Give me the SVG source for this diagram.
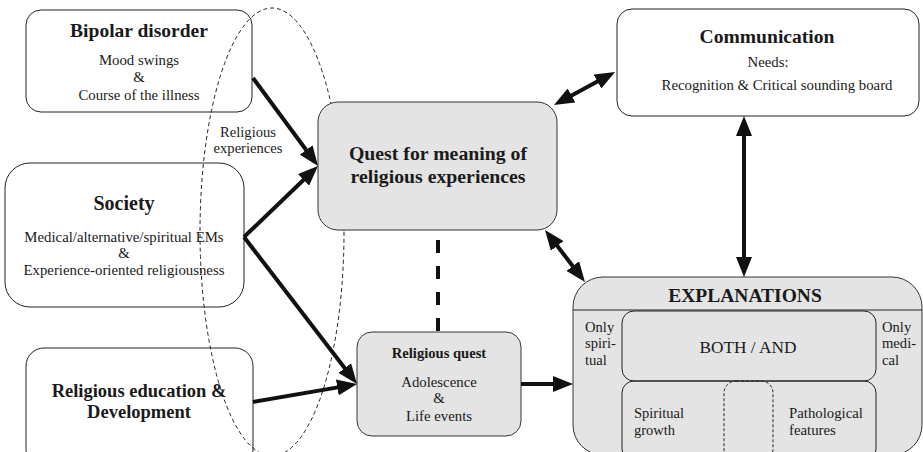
<svg xmlns="http://www.w3.org/2000/svg" width="923" height="452" viewBox="0 0 923 452">
<style>
text{fill:#1a1a1a;font-family:"Liberation Serif","Times New Roman",serif;}
.b{font-weight:bold;}
.box{fill:#fff;stroke:#222;stroke-width:1;}
.gbox{fill:#e4e4e4;stroke:#333;stroke-width:1;}
.ibox{fill:none;stroke:#222;stroke-width:1;}
.arr{stroke:#111;stroke-width:4;fill:none;}
</style>
<defs>
<marker id="ah" markerUnits="userSpaceOnUse" markerWidth="20" markerHeight="16" refX="2" refY="8" orient="auto-start-reverse">
<path d="M0,0 L20,8 L0,16 z" fill="#111"/>
</marker>
</defs>
<rect width="923" height="452" fill="#fff"/>

<g id="bipolar">
<rect class="box" x="26" y="10" width="226" height="102" rx="15"/>
<text class="b" x="139" y="37" font-size="19.5" text-anchor="middle">Bipolar disorder</text>
<text x="139" y="65" font-size="14.8" text-anchor="middle">Mood swings</text>
<text x="139" y="82" font-size="14.8" text-anchor="middle">&amp;</text>
<text x="139" y="100" font-size="14.8" text-anchor="middle">Course of the illness</text>
</g>

<g id="society">
<rect class="box" x="5" y="163" width="239" height="144" rx="25"/>
<text class="b" x="124" y="210" font-size="20" text-anchor="middle">Society</text>
<text x="124" y="242" font-size="14.8" text-anchor="middle">Medical/alternative/spiritual EMs</text>
<text x="124" y="258" font-size="14.8" text-anchor="middle">&amp;</text>
<text x="124" y="275" font-size="14.8" text-anchor="middle">Experience-oriented religiousness</text>
</g>

<g id="religious-education">
<rect class="box" x="26" y="348" width="227" height="120" rx="18"/>
<text class="b" x="139" y="397" font-size="18.5" text-anchor="middle">Religious education &amp;</text>
<text class="b" x="139" y="418" font-size="18.5" text-anchor="middle">Development</text>
</g>

<g id="ellipse-label">
<ellipse cx="272" cy="232" rx="72" ry="224" fill="none" stroke="#222" stroke-width="1" stroke-dasharray="4,3"/>
<text x="248" y="137" font-size="14.6" text-anchor="middle">Religious</text>
<text x="248" y="153" font-size="14.6" text-anchor="middle">experiences</text>
</g>

<g id="quest">
<rect class="gbox" x="318" y="102" width="239" height="128" rx="20"/>
<text class="b" x="438" y="160" font-size="19.8" text-anchor="middle">Quest for meaning of</text>
<text class="b" x="438" y="183" font-size="19.8" text-anchor="middle">religious experiences</text>
</g>

<g id="religious-quest">
<rect class="gbox" x="357" y="332" width="164" height="104" rx="15"/>
<text class="b" x="439" y="358" font-size="14.6" text-anchor="middle">Religious quest</text>
<text x="439" y="387" font-size="14.8" text-anchor="middle">Adolescence</text>
<text x="439" y="403" font-size="14.8" text-anchor="middle">&amp;</text>
<text x="439" y="421" font-size="14.8" text-anchor="middle">Life events</text>
</g>

<g id="communication">
<rect class="box" x="617" y="9" width="302" height="107" rx="15"/>
<text class="b" x="767" y="43" font-size="19.6" text-anchor="middle">Communication</text>
<text x="768" y="67" font-size="14.8" text-anchor="middle">Needs:</text>
<text x="777" y="90" font-size="14.8" text-anchor="middle">Recognition &amp; Critical sounding board</text>
</g>

<g id="explanations">
<rect class="gbox" x="573" y="277" width="349" height="178" rx="30"/>
<line x1="573" y1="310" x2="922" y2="310" stroke="#222" stroke-width="1"/>
<text class="b" x="745" y="302" font-size="19.5" text-anchor="middle">EXPLANATIONS</text>
<rect class="ibox" x="622" y="311" width="254" height="70" rx="12"/>
<rect class="ibox" x="622" y="381" width="254" height="80" rx="12"/>
<rect class="ibox" x="724" y="381" width="49" height="80" rx="12" stroke-dasharray="3,2"/>
<text x="748" y="353" font-size="17.3" text-anchor="middle">BOTH / AND</text>
<text x="585" y="332" font-size="14.6">Only</text>
<text x="585" y="348" font-size="14.6">spiri-</text>
<text x="585" y="365" font-size="14.6">tual</text>
<text x="882" y="332" font-size="14.6">Only</text>
<text x="882" y="348" font-size="14.6">medi-</text>
<text x="882" y="365" font-size="14.6">cal</text>
<text x="634" y="418" font-size="14.5">Spiritual</text>
<text x="634" y="435" font-size="14.5">growth</text>
<text x="789" y="418" font-size="14.8">Pathological</text>
<text x="789" y="435" font-size="14.8">features</text>
</g>

<g id="connectors">
<line class="arr" x1="253" y1="78" x2="307.3" y2="151.5" marker-end="url(#ah)"/>
<line class="arr" x1="244" y1="237" x2="305" y2="178.5" marker-end="url(#ah)"/>
<line class="arr" x1="244" y1="237" x2="346" y2="369.7" marker-end="url(#ah)"/>
<line class="arr" x1="253" y1="402" x2="339.3" y2="387.1" marker-end="url(#ah)"/>
<line class="arr" x1="521" y1="384" x2="555" y2="384" marker-end="url(#ah)"/>
<line class="arr" x1="569.8" y1="96.4" x2="599.2" y2="80.6" marker-start="url(#ah)" marker-end="url(#ah)"/>
<line class="arr" x1="556" y1="244.3" x2="574" y2="267.7" marker-start="url(#ah)" marker-end="url(#ah)"/>
<line class="arr" x1="744" y1="134" x2="744" y2="259" marker-start="url(#ah)" marker-end="url(#ah)"/>
<line class="arr" x1="438" y1="240" x2="438" y2="332" stroke-dasharray="13,13"/>
</g>
</svg>
